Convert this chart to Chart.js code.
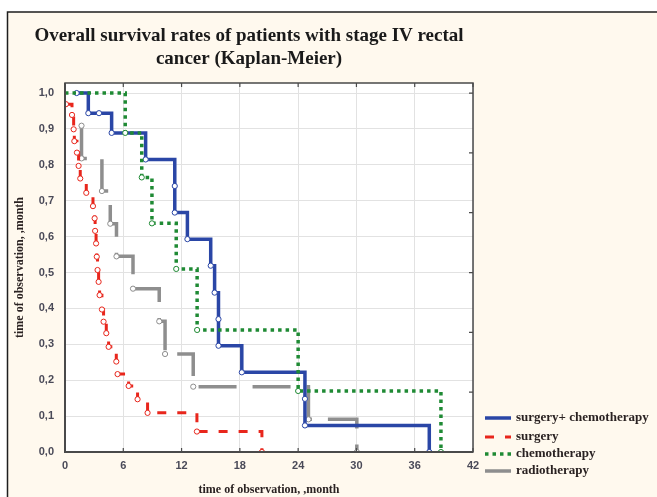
<!DOCTYPE html>
<html><head><meta charset="utf-8">
<script src="https://cdn.jsdelivr.net/npm/chart.js@4.4.0/dist/chart.umd.min.js"></script>
<style>html,body{margin:0;padding:0;background:#fff;overflow:hidden}#wrap{width:657px;height:497px}</style>
</head><body><div id="wrap"><canvas id="c" width="657" height="497"></canvas></div>
<script>
const titleLines = ['Overall survival rates of patients with stage IV rectal', 'cancer (Kaplan-Meier)'];
const xAxisTitle = 'time of observation, ,month';
const yAxisTitle = 'time of observation, ,month';
const seriesNames = ['surgery+ chemotherapy', 'surgery', 'chemotherapy', 'radiotherapy'];
const xTickStep = 6;
const yTickStep = 0.1;

// surgery + chemotherapy
const combTime = [1.2, 2.4, 3.5, 4.8, 8.3, 11.3, 11.3, 12.6, 15.0, 15.4, 15.8, 15.8, 18.2, 24.7, 24.7, 37.5];
const combSurv = [1, 0.944, 0.944, 0.889, 0.815, 0.741, 0.667, 0.593, 0.519, 0.444, 0.370, 0.296, 0.222, 0.148, 0.074, 0];
// surgery
const surgTime = [0.1, 0.72, 0.89, 0.96, 1.23, 1.4, 1.57, 2.19, 2.88, 3.05, 3.1, 3.2, 3.27, 3.35, 3.46, 3.56, 3.8, 3.97, 4.25, 4.49, 5.28, 5.41, 6.55, 7.47, 8.5, 13.58, 20.27];
const surgSurv = [0.969, 0.939, 0.899, 0.866, 0.834, 0.797, 0.762, 0.722, 0.685, 0.651, 0.616, 0.581, 0.544, 0.507, 0.474, 0.437, 0.397, 0.363, 0.331, 0.293, 0.252, 0.217, 0.184, 0.147, 0.109, 0.057, 0];
// chemotherapy
const chemTime = [0, 6.2, 7.9, 8.95, 11.45, 13.6, 24.0, 38.7];
const chemSurv = [1, 0.889, 0.765, 0.637, 0.51, 0.34, 0.17, 0];
// radiotherapy
const radTime = [1.7, 1.7, 3.8, 4.66, 5.3, 7.0, 9.7, 10.3, 13.2, 25.06, 30.04];
const radSurv = [0.909, 0.818, 0.727, 0.636, 0.545, 0.455, 0.364, 0.273, 0.182, 0.091, 0];

const colors = ['#2a46a6', '#e8261c', '#1f8a34', '#8e8e8e'];
const widths = [3.5, 3, 3.5, 3.5];
const dashes = [[], [9, 11], [3.5, 4], [38, 16]];
const orders = [1, 2, 0, 3];
const firstMarked = [true, true, false, true];
const times = [combTime, surgTime, chemTime, radTime];
const survs = [combSurv, surgSurv, chemSurv, radSurv];

const datasets = seriesNames.map((name, k) => ({
  label: name,
  data: times[k].map((t, i) => ({x: t, y: survs[k][i]})),
  stepped: true,
  fill: false,
  borderColor: colors[k],
  borderWidth: widths[k],
  borderDash: dashes[k],
  borderCapStyle: 'butt',
  pointRadius: (ctx) => (ctx.dataIndex === 0 && !firstMarked[k]) ? 0 : 2.6,
  pointBackgroundColor: '#ffffff',
  pointBorderColor: colors[k],
  pointBorderWidth: 1,
  order: orders[k]
}));

const bgPlugin = {
  id: 'bg',
  beforeDraw(chart) {
    const ctx = chart.ctx, a = chart.chartArea;
    ctx.save();
    ctx.fillStyle = '#ffffff';
    ctx.fillRect(0, 0, chart.width, chart.height);
    ctx.fillStyle = '#fff9ee';
    ctx.fillRect(8, 12, chart.width - 8, chart.height - 12);
    ctx.strokeStyle = '#1e1e1e';
    ctx.lineWidth = 1.5;
    ctx.beginPath();
    ctx.moveTo(7.5, chart.height);
    ctx.lineTo(7.5, 12);
    ctx.lineTo(chart.width, 12);
    ctx.stroke();
    ctx.fillStyle = '#ffffff';
    ctx.fillRect(a.left, a.top, a.right - a.left, a.bottom - a.top);
    ctx.restore();
  },
  afterDraw(chart) {
    const ctx = chart.ctx, a = chart.chartArea;
    const xs = chart.scales.x, ys = chart.scales.y;
    ctx.save();
    // frame
    ctx.strokeStyle = '#4a4a4a';
    ctx.lineWidth = 1.5;
    ctx.strokeRect(a.left, a.top, a.right - a.left, a.bottom - a.top);
    ctx.lineWidth = 2;
    ctx.beginPath();
    ctx.moveTo(a.left, a.top); ctx.lineTo(a.left, a.bottom); ctx.lineTo(a.right, a.bottom);
    ctx.stroke();
    // inward ticks
    ctx.lineWidth = 1.2;
    ctx.beginPath();
    for (let v = 0; v <= 42; v += xTickStep) {
      const px = xs.getPixelForValue(v);
      ctx.moveTo(px, a.top); ctx.lineTo(px, a.top + 4);
      ctx.moveTo(px, a.bottom); ctx.lineTo(px, a.bottom - 4);
    }
    for (let i = 0; i <= 6; i++) {
      const py = ys.getPixelForValue(i / 6);
      ctx.moveTo(a.right, py); ctx.lineTo(a.right - 4, py);
    }
    ctx.stroke();
    // title
    ctx.fillStyle = '#1a1a1a';
    ctx.textAlign = 'center';
    ctx.textBaseline = 'alphabetic';
    ctx.font = 'bold 19px "Liberation Serif"';
    ctx.fillText(titleLines[0], 249, 40.5, 433);
    ctx.fillText(titleLines[1], 249, 63.5, 190);
    // legend
    const rows = [418, 437, 454, 471];
    ctx.textAlign = 'left';
    ctx.textBaseline = 'middle';
    ctx.font = 'bold 13px "Liberation Serif"';
    seriesNames.forEach((name, k) => {
      ctx.save();
      ctx.strokeStyle = colors[k];
      ctx.lineWidth = widths[k];
      ctx.setLineDash(dashes[k]);
      ctx.beginPath();
      ctx.moveTo(485, rows[k]); ctx.lineTo(511, rows[k]);
      ctx.stroke();
      ctx.restore();
      ctx.fillStyle = '#2a2222';
      ctx.fillText(name, 516, rows[k], 138);
    });
    ctx.restore();
  }
};

new Chart(document.getElementById('c'), {
  type: 'line',
  data: { datasets },
  options: {
    responsive: false,
    devicePixelRatio: 1,
    animation: false,
    layout: { padding: { top: 83, right: 184, left: 0, bottom: 0 } },
    plugins: { legend: { display: false }, title: { display: false }, tooltip: { enabled: false } },
    scales: {
      x: {
        type: 'linear', min: 0, max: 42,
        ticks: { stepSize: xTickStep, padding: 7, color: '#4a4a58', font: { family: '"Liberation Sans"', weight: 'bold', size: 11 } },
        grid: { color: '#e2e2e2', drawTicks: false },
        border: { display: false },
        title: { display: true, text: xAxisTitle, color: '#2a2222', font: { family: '"Liberation Serif"', weight: 'bold', size: 12 }, padding: { top: 0, bottom: 0 } },
        afterFit: (s) => { s.height = 45; }
      },
      y: {
        type: 'linear', min: 0, max: 1.028,
        ticks: { stepSize: yTickStep, includeBounds: false, padding: 11, color: '#4a4a58',
          font: { family: '"Liberation Sans"', weight: 'bold', size: 11 },
          callback: (v) => Number(v).toFixed(1).replace('.', ',') },
        grid: { color: '#e2e2e2', drawTicks: false },
        border: { display: false },
        title: { display: true, text: yAxisTitle, color: '#2a2222', font: { family: '"Liberation Serif"', weight: 'bold', size: 12 }, padding: { top: 13, bottom: 0 } },
        afterFit: (s) => { s.width = 65; }
      }
    }
  },
  plugins: [bgPlugin]
});
</script></body></html>
